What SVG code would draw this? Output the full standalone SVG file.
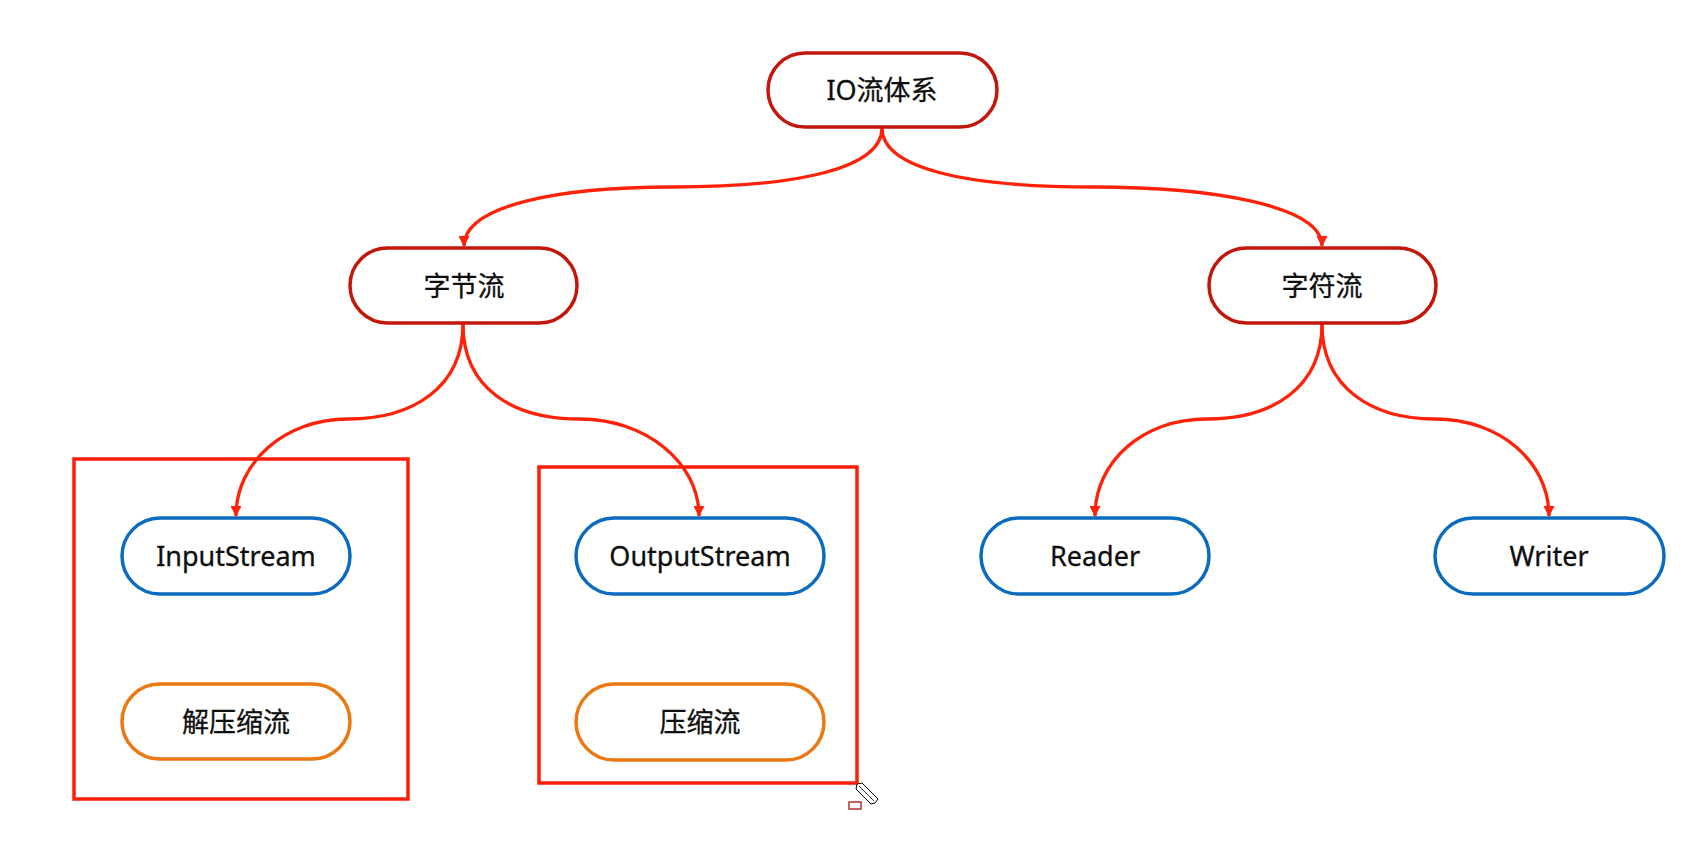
<svg xmlns="http://www.w3.org/2000/svg" width="1705" height="845" viewBox="0 0 1705 845">
  <defs>
    <marker id="arr" viewBox="0 0 12 12" refX="11" refY="6" markerWidth="12" markerHeight="11" markerUnits="userSpaceOnUse" orient="auto">
      <path d="M0,0 L12,6 L0,12 z" fill="#ff2208"/>
    </marker>
    <style>
      .lbl { font-family: "Noto Sans", "Noto Sans CJK SC", sans-serif; font-size: 27px; fill: #0e0e0e; text-anchor: middle; stroke: #0e0e0e; stroke-width: 0.3; }
      .top { fill: #ffffff; stroke: #c4170c; stroke-width: 3.5; }
      .blue { fill: #ffffff; stroke: #0b6cbf; stroke-width: 3.5; }
      .orange { fill: #ffffff; stroke: #ec7812; stroke-width: 3.5; }
      .box { fill: none; stroke: #ff1e05; stroke-width: 3.5; }
      .conn { fill: none; stroke: #ff2208; stroke-width: 3.3; marker-end: url(#arr); }
    </style>
  </defs>
  <rect x="0" y="0" width="1705" height="845" fill="#ffffff"/>

  <g id="group-input">
    <rect class="box" x="74" y="459" width="334" height="340"/>
  </g>
  <g id="group-output">
    <rect class="box" x="539" y="467" width="318" height="316"/>
  </g>

  <g id="connectors">
    <path class="conn" d="M882,128 C882,168 800,187 672,187 C560,187 464,205 464,246"/>
    <path class="conn" d="M882,128 C882,168 964,187 1093,187 C1210,187 1322,205 1322,246"/>
    <path class="conn" d="M463,324 C463,388 412,419 348,419 C285,419 236,462 236,516"/>
    <path class="conn" d="M463,324 C463,388 512,419 580,419 C645,419 699,462 699,516"/>
    <path class="conn" d="M1322,324 C1322,388 1272,419 1207,419 C1142,419 1095,462 1095,516"/>
    <path class="conn" d="M1322,324 C1322,388 1372,419 1435,419 C1500,419 1549,462 1549,516"/>
  </g>

  <g id="node-io">
    <rect class="top" x="768" y="53" width="229" height="74" rx="37"/>
    <text class="lbl" x="882" y="100">IO流体系</text>
  </g>
  <g id="node-byte">
    <rect class="top" x="350" y="248" width="227" height="75" rx="37.5"/>
    <text class="lbl" x="464" y="296">字节流</text>
  </g>
  <g id="node-char">
    <rect class="top" x="1209" y="248" width="227" height="75" rx="37.5"/>
    <text class="lbl" x="1322" y="296">字符流</text>
  </g>
  <g id="node-inputstream">
    <rect class="blue" x="122" y="518" width="228" height="76" rx="38"/>
    <text class="lbl" x="236" y="566">InputStream</text>
  </g>
  <g id="node-outputstream">
    <rect class="blue" x="576" y="518" width="248" height="76" rx="38"/>
    <text class="lbl" x="700" y="566">OutputStream</text>
  </g>
  <g id="node-reader">
    <rect class="blue" x="981" y="518" width="228" height="76" rx="38"/>
    <text class="lbl" x="1095" y="566">Reader</text>
  </g>
  <g id="node-writer">
    <rect class="blue" x="1435" y="518" width="229" height="76" rx="38"/>
    <text class="lbl" x="1549" y="566">Writer</text>
  </g>
  <g id="node-decompress">
    <rect class="orange" x="122" y="684" width="228" height="75" rx="37.5"/>
    <text class="lbl" x="236" y="732">解压缩流</text>
  </g>
  <g id="node-compress">
    <rect class="orange" x="576" y="684" width="248" height="76" rx="38"/>
    <text class="lbl" x="700" y="732">压缩流</text>
  </g>

  <g id="cursor">
    <rect x="849" y="802" width="12" height="7" fill="#ffffff" stroke="#b5302a" stroke-width="1.5"/>
    <path d="M857,784 L862,783 L878,799 L875,803 L871,804 L856,789 z" fill="#ffffff" stroke="#000000" stroke-width="1"/>
    <path d="M859,786 L874,801" fill="none" stroke="#000000" stroke-width="0.8"/>
  </g>
</svg>
